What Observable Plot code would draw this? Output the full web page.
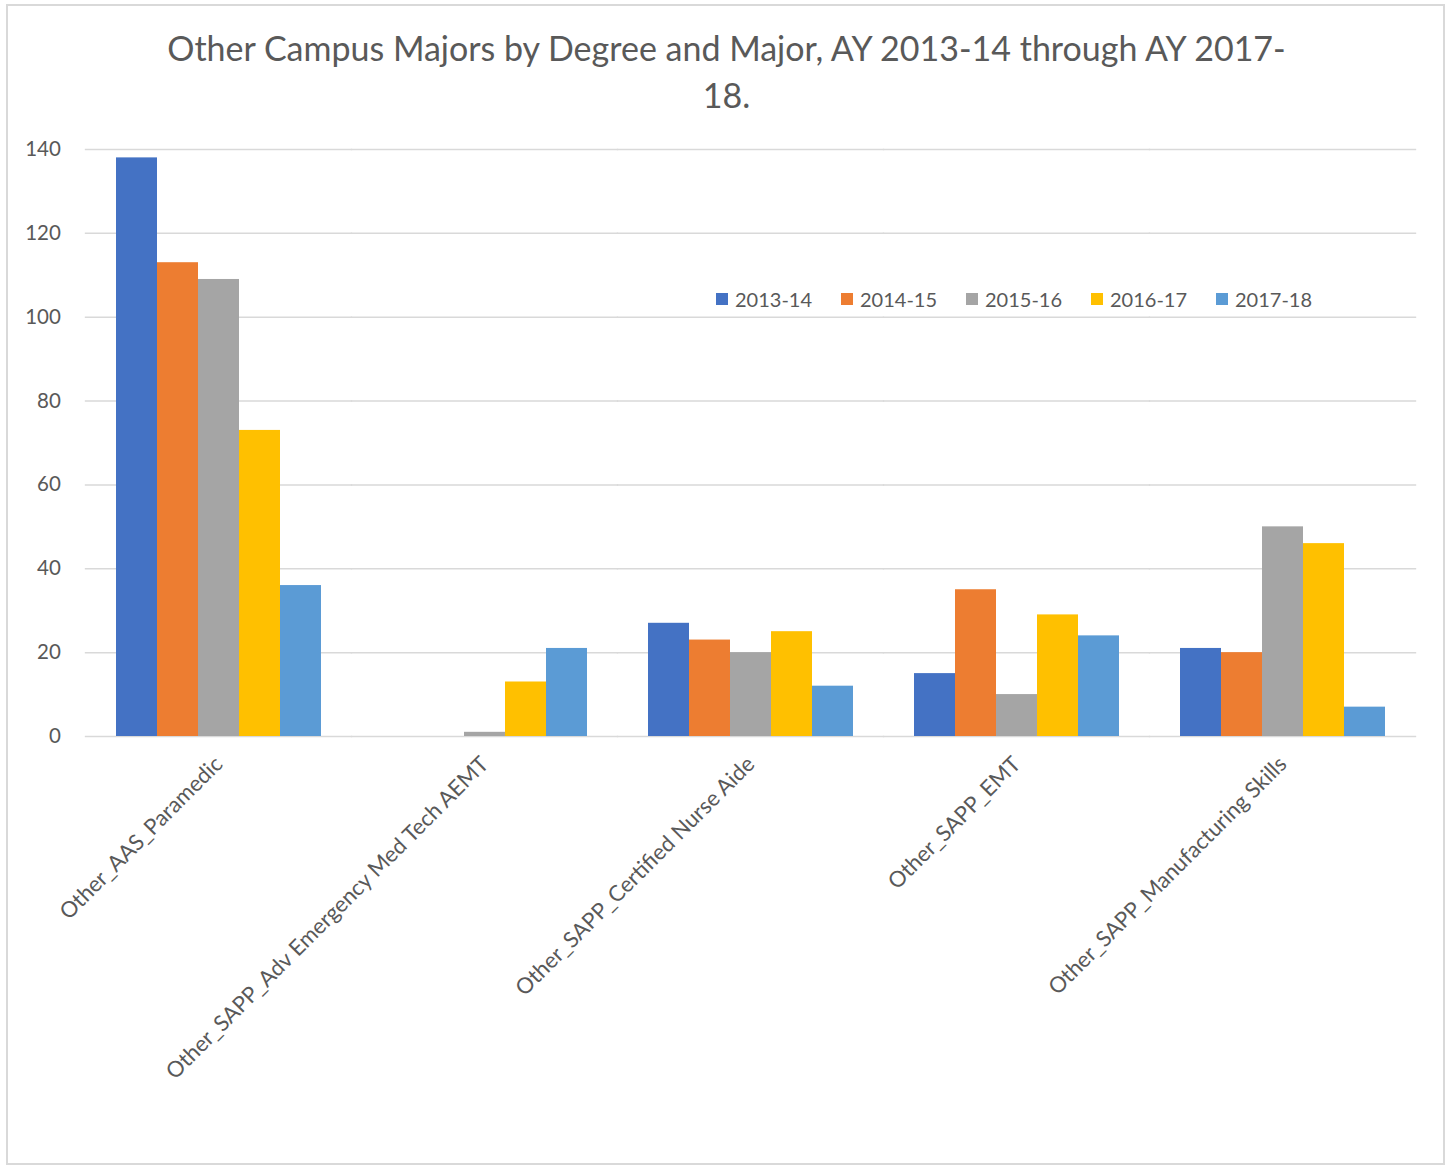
<!DOCTYPE html>
<html>
<head>
<meta charset="utf-8">
<script src="https://cdn.jsdelivr.net/npm/d3@7"></script>
<script src="https://cdn.jsdelivr.net/npm/@observablehq/plot@0.6"></script>
<style>
  html, body { margin: 0; padding: 0; background: #fff; }
  body { width: 1453px; height: 1172px; position: relative; overflow: hidden; font-family: Lato, "Open Sans", sans-serif; }
  #frame { position: absolute; left: 6px; top: 4px; width: 1439px; height: 1161px; border: 2px solid #d9d9d9; box-sizing: border-box; }
  #title { position: absolute; left: 0; width: 1453px; top: 24px; text-align: center; color: #595959; font-size: 34px; line-height: 47px; }
  #chart { position: absolute; left: 0; top: 0; }
  #legend { position: absolute; top: 287px; left: 716px; display: flex; color: #595959; font-size: 20px; line-height: 24px; }
  .item { display: flex; align-items: center; width: 125px; }
  .sw { width: 12px; height: 12px; margin-right: 7px; }
</style>
</head>
<body>
<div id="frame"></div>
<div id="chart"></div>
<div id="title">Other Campus Majors by Degree and Major, AY 2013-14 through AY 2017-<br>18.</div>
<div id="legend"></div>
<script>
const categories = [
  "Other_AAS_Paramedic",
  "Other_SAPP_Adv Emergency Med Tech AEMT",
  "Other_SAPP_Certified Nurse Aide",
  "Other_SAPP_EMT",
  "Other_SAPP_Manufacturing Skills"
];
const years = ["2013-14", "2014-15", "2015-16", "2016-17", "2017-18"];
const colors = ["#4472C4", "#ED7D31", "#A5A5A5", "#FFC000", "#5B9BD5"];
const v2013 = [138, 0, 27, 15, 21];
const v2014 = [113, 0, 23, 35, 20];
const v2015 = [109, 1, 20, 10, 50];
const v2016 = [73, 13, 25, 29, 46];
const v2017 = [36, 21, 12, 24, 7];
const yTicks = [0, 20, 40, 60, 80, 100, 120, 140];

const series = [v2013, v2014, v2015, v2016, v2017];
const data = [];
categories.forEach((c, i) => {
  years.forEach((y, j) => data.push({category: c, year: y, value: series[j][i]}));
});

const W = 1453, ML = 83, MR = 36, PAD = 0.23;
const step = (W - ML - MR) / categories.length;
const ext = step * PAD / 2;

const textColor = "#595959";
const plot = Plot.plot({
  width: W,
  height: 1100,
  marginLeft: ML,
  marginRight: MR,
  marginTop: 149,
  marginBottom: 364,
  style: {fontFamily: "Lato, 'Open Sans', sans-serif", background: "transparent", overflow: "visible"},
  fx: {domain: categories, paddingInner: PAD, paddingOuter: PAD / 2, label: null},
  x: {domain: years, padding: 0, axis: null},
  y: {domain: [0, 140], axis: null},
  color: {domain: years, range: colors},
  marks: [
    Plot.ruleY(yTicks, {stroke: "#d9d9d9", strokeWidth: 1.5, insetLeft: -ext - 0.5, insetRight: -ext - 0.5}),
    Plot.barY(data, {fx: "category", x: "year", y: "value", fill: "year"}),
    Plot.axisY({ticks: yTicks, tickSize: 0, tickPadding: 25 + ext, fontSize: 20.5, color: textColor, label: null}),
    Plot.axisFx({anchor: "bottom", tickRotate: -45, tickSize: 0, tickPadding: 24, fontSize: 22, color: textColor, label: null})
  ]
});
document.getElementById("chart").appendChild(plot);

const legend = document.getElementById("legend");
years.forEach((y, i) => {
  const item = document.createElement("div");
  item.className = "item";
  const sw = document.createElement("div");
  sw.className = "sw";
  sw.style.background = colors[i];
  const t = document.createElement("span");
  t.textContent = y;
  item.appendChild(sw);
  item.appendChild(t);
  legend.appendChild(item);
});
</script>
</body>
</html>
